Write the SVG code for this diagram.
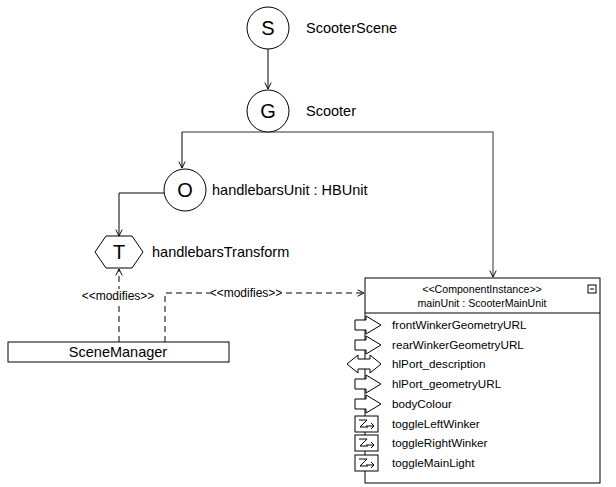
<svg xmlns="http://www.w3.org/2000/svg" width="616" height="487" viewBox="0 0 616 487">
<style>
text{font-family:"Liberation Sans",Arial,sans-serif;fill:#000}
.n{fill:#fff;stroke:#000;stroke-width:1}
.big{font-size:20px}
.lbl{font-size:14.5px}
.sm{font-size:11.7px}
.hd{font-size:10.6px}
.md{font-size:12px}
.c{fill:none;stroke:#000;stroke-width:1}
.d{fill:none;stroke:#000;stroke-width:1;stroke-dasharray:6,4}
.g{fill:none;stroke:#777;stroke-width:1.5}
</style>
<defs>
<marker id="ah" viewBox="0 0 10 10" refX="9" refY="5" markerWidth="8" markerHeight="8" orient="auto" markerUnits="userSpaceOnUse"><path d="M1,1 L9,5 L1,9" fill="none" stroke="#000" stroke-width="1.2"/></marker>
<g id="outp"><path d="M-10,-5 H1 V-9 L16,0 L1,9 V5 H-10 Z" fill="#fff" stroke="#000"/></g>
<g id="inout"><path d="M-18,0 L-7,-9 V-5 H5 V-9 L16,0 L5,9 V5 H-7 V9 Z" fill="#fff" stroke="#000"/></g>
<g id="evt"><rect x="-10" y="-8" width="23" height="16" fill="#fff" stroke="#000"/><path d="M-6,-4 H2 L-5,3 H3 M1,2 H9 M6,-1 L9,2 L6,5" fill="none" stroke="#000" stroke-width="1"/></g>
</defs>
<g id="connectors">
<line x1="268" y1="49" x2="268" y2="89" class="c" marker-end="url(#ah)"/>
<path d="M182,132 H493 V277" class="g" marker-end="url(#ah)"/>
<path d="M182,132 V168" class="c" marker-end="url(#ah)"/>
<path d="M164,193 H119 V236" class="c" marker-end="url(#ah)"/>
<path d="M119,342 V269" class="d" marker-end="url(#ah)"/>
<path d="M165,342 V293 H364" class="d" marker-end="url(#ah)"/>
<rect x="82" y="289" width="74" height="14" fill="#fff"/>
<text x="118" y="300" class="md" text-anchor="middle">&lt;&lt;modifies&gt;&gt;</text>
<rect x="210" y="286" width="72" height="13" fill="#fff"/>
<text x="246" y="297" class="md" text-anchor="middle">&lt;&lt;modifies&gt;&gt;</text>
</g>
<g id="S"><circle cx="268" cy="28" r="21" class="n"/><text x="268" y="35" class="big" text-anchor="middle">S</text><text x="306" y="33" class="lbl">ScooterScene</text></g>
<g id="G"><circle cx="268" cy="111" r="21" class="n"/><text x="268" y="118" class="big" text-anchor="middle">G</text><text x="306" y="116" class="lbl">Scooter</text></g>
<g id="O"><circle cx="185" cy="190" r="21" class="n"/><text x="185" y="197" class="big" text-anchor="middle">O</text><text x="212" y="195" class="lbl">handlebarsUnit : HBUnit</text></g>
<g id="T"><path d="M95,252 L106,236 H132 L143,252 L132,268 H106 Z" class="n"/><text x="119" y="259" class="big" text-anchor="middle">T</text><text x="152" y="257" class="lbl">handlebarsTransform</text></g>
<g id="SceneManager"><rect x="8" y="342" width="221" height="20" class="n"/><text x="118" y="357" class="lbl" text-anchor="middle">SceneManager</text></g>
<g id="mainUnit">
<rect x="365" y="278" width="235" height="205" class="n"/>
<line x1="365" y1="313" x2="600" y2="313" stroke="#000"/>
<text x="482" y="293" class="hd" text-anchor="middle">&lt;&lt;ComponentInstance&gt;&gt;</text>
<text x="482" y="307" class="hd" text-anchor="middle">mainUnit : ScooterMainUnit</text>
<rect x="588" y="285" width="8" height="8" fill="#fff" stroke="#000"/><line x1="590" y1="289" x2="594" y2="289" stroke="#000"/>
<use href="#outp" x="365" y="325"/><text x="392" y="329" class="sm">frontWinkerGeometryURL</text>
<use href="#outp" x="365" y="345"/><text x="392" y="349" class="sm">rearWinkerGeometryURL</text>
<use href="#inout" x="365" y="364"/><text x="392" y="368" class="sm">hlPort_description</text>
<use href="#outp" x="365" y="384"/><text x="392" y="388" class="sm">hlPort_geometryURL</text>
<use href="#outp" x="365" y="404"/><text x="392" y="408" class="sm">bodyColour</text>
<use href="#evt" x="365" y="424"/><text x="392" y="428" class="sm">toggleLeftWinker</text>
<use href="#evt" x="365" y="443"/><text x="392" y="447" class="sm">toggleRightWinker</text>
<use href="#evt" x="365" y="463"/><text x="392" y="467" class="sm">toggleMainLight</text>
</g>
</svg>
